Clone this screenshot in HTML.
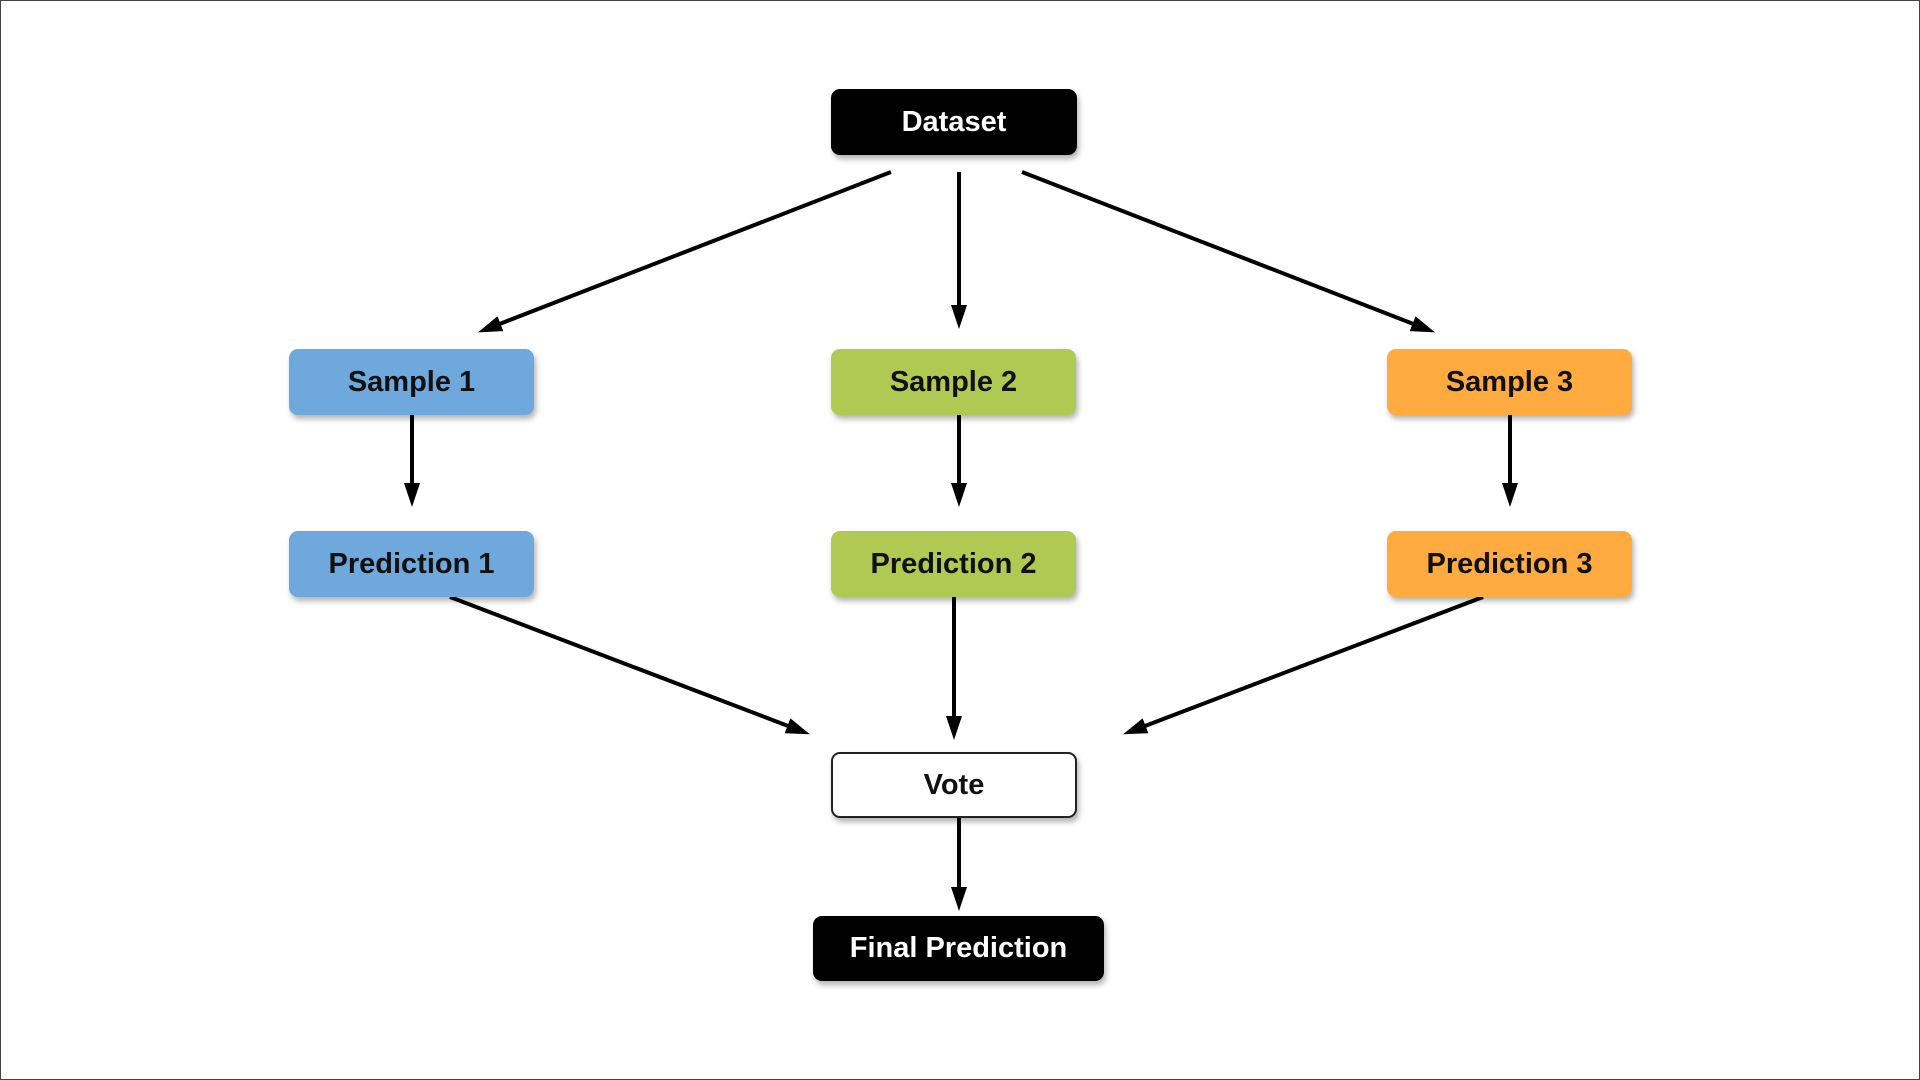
<!DOCTYPE html>
<html><head><meta charset="utf-8"><style>
html,body{margin:0;padding:0;background:#fff;}
#c{position:relative;width:1920px;height:1080px;overflow:hidden;box-sizing:border-box;border:1px solid #444;}
.n{position:absolute;box-sizing:border-box;border-radius:9px;display:flex;align-items:center;justify-content:center;font-family:"Liberation Sans",sans-serif;font-weight:bold;font-size:29px;color:#111;box-shadow:2px 4px 6px rgba(0,0,0,0.3);}
.k{background:#000;color:#fff;}
.b{background:#6fa8dc;}.g{background:#b0c952;}.o{background:#ffab40;}
svg{position:absolute;left:0;top:0;}
</style></head><body><div id="c">
<svg width="1920" height="1080">
<defs><marker id="a" markerWidth="24" markerHeight="16" refX="1" refY="8" orient="auto" markerUnits="userSpaceOnUse"><path d="M0,0 L24,8 L0,16 z" fill="#000"/></marker></defs>
<g stroke="#000" stroke-width="4" fill="none" marker-end="url(#a)">
<line x1="890" y1="171" x2="498.5" y2="323"/>
<line x1="958" y1="171" x2="958" y2="305"/>
<line x1="1021" y1="171" x2="1412.5" y2="323"/>
<line x1="411" y1="414" x2="411" y2="483"/>
<line x1="958" y1="414" x2="958" y2="483"/>
<line x1="1509" y1="414" x2="1509" y2="483"/>
<line x1="449" y1="596" x2="787.4" y2="725.1"/>
<line x1="953" y1="596" x2="953" y2="716"/>
<line x1="1482" y1="596" x2="1143.6" y2="725.1"/>
<line x1="958" y1="817" x2="958" y2="887"/>
</g></svg>
<div class="n k" style="left:830px;top:88px;width:246px;height:66px;">Dataset</div>
<div class="n b" style="left:288px;top:348px;width:245px;height:66px;">Sample 1</div>
<div class="n g" style="left:830px;top:348px;width:245px;height:66px;">Sample 2</div>
<div class="n o" style="left:1386px;top:348px;width:245px;height:66px;">Sample 3</div>
<div class="n b" style="left:288px;top:530px;width:245px;height:66px;">Prediction 1</div>
<div class="n g" style="left:830px;top:530px;width:245px;height:66px;">Prediction 2</div>
<div class="n o" style="left:1386px;top:530px;width:245px;height:66px;">Prediction 3</div>
<div class="n" style="left:830px;top:751px;width:246px;height:66px;background:#fff;border:2px solid #222;">Vote</div>
<div class="n k" style="left:812px;top:915px;width:291px;height:65px;">Final Prediction</div>
</div></body></html>
